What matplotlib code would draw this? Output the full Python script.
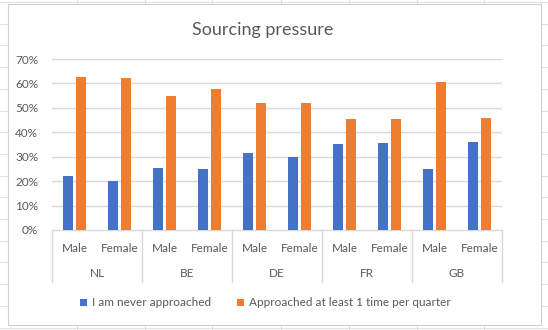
import matplotlib as mpl
mpl.use('Agg')
from matplotlib import pyplot as plt
from matplotlib.patches import Rectangle, Patch
from matplotlib.lines import Line2D
import numpy as np

countries = ["NL", "BE", "DE", "FR", "GB"]
genders = ["Male", "Female"]
never_approached = [22.3, 20.0, 25.4, 25.0, 31.6, 29.9, 35.4, 35.7, 25.0, 36.1]
approached_quarterly = [62.5, 62.2, 54.9, 57.9, 51.8, 51.8, 45.3, 45.6, 60.4, 46.0]
series_names = ["I am never approached", "Approached at least 1 time per quarter"]
yticks = [0, 10, 20, 30, 40, 50, 60, 70]

W, H = 548, 330
BLUE = '#4472C4'
ORANGE = '#ED7D31'
TEXT = '#595959'
GRID = '#D9D9D9'

plt.rcParams['font.family'] = ['Lato', 'DejaVu Sans']

fig = plt.figure(figsize=(W / 100, H / 100), dpi=100)
fig.patch.set_facecolor('white')

# spreadsheet cells behind the chart
sheet_x = [77, 145, 212, 281, 349, 417, 484]
for x in sheet_x:
    fig.add_artist(Line2D([x / W, x / W], [0, 1], color='#E1E1E1', lw=0.8, zorder=0))
for y in np.arange(2, H, 21.7):
    fig.add_artist(Line2D([0, 1], [1 - y / H, 1 - y / H], color='#E1E1E1', lw=0.8, zorder=0))

# chart area
fig.add_artist(Rectangle((8 / W, 1 - 325 / H), 533 / W, 321 / H, transform=fig.transFigure,
                         facecolor='white', edgecolor='#D0D0D0', lw=0.8, zorder=1))

ax = fig.add_axes([52 / W, 1 - 230 / H, 450 / W, 171 / H], zorder=2)
ax.set_facecolor('none')

n = len(never_approached)
x = np.arange(n)
bw = 0.225
ax.bar(x - 0.15, never_approached, bw, color=BLUE, zorder=3)
ax.bar(x + 0.15, approached_quarterly, bw, color=ORANGE, zorder=3)

ax.set_xlim(-0.5, n - 0.5)
ax.set_ylim(0, 70)
ax.set_yticks(yticks)
ax.set_yticklabels([f"{v}%" for v in yticks], color=TEXT, fontsize=8.5)
ax.tick_params(axis='y', length=0, pad=10)
ax.set_xticks([])
for v in yticks[1:]:
    ax.axhline(v, color=GRID, lw=1, zorder=1)
for s in ['top', 'right', 'left']:
    ax.spines[s].set_visible(False)
ax.spines['bottom'].set_color(GRID)
ax.spines['bottom'].set_linewidth(1)

# two-level category axis
tr = ax.get_xaxis_transform()
for b in np.arange(-0.5, n, 2):
    ax.plot([b, b], [0, -0.304], transform=tr, color=GRID, lw=1, clip_on=False)
for i in range(n):
    ax.text(i, -0.111, genders[i % 2], transform=tr, ha='center', va='center',
            color=TEXT, fontsize=8.5)
for j, c in enumerate(countries):
    ax.text(2 * j + 0.5, -0.257, c, transform=tr, ha='center', va='center',
            color=TEXT, fontsize=8.5)

fig.text(262.5 / W, 1 - 30 / H, "Sourcing pressure", ha='center', va='center',
         color=TEXT, fontsize=13)

handles = [Patch(facecolor=BLUE), Patch(facecolor=ORANGE)]
fig.legend(handles, series_names, loc='center', bbox_to_anchor=(265.5 / W, 1 - 303 / H),
           ncol=2, frameon=False, fontsize=8.5, handlelength=0.6, handleheight=0.6,
           handletextpad=0.4, columnspacing=2.2, labelcolor=TEXT)

fig.savefig('out.png', dpi=100)
